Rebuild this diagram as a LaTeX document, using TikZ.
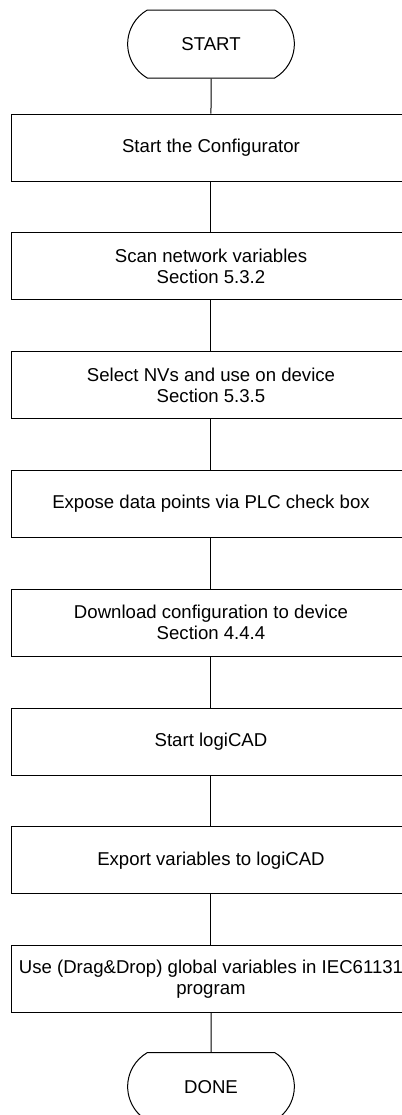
\documentclass[tikz,border=0pt]{standalone}
\usepackage{fontspec}
\setmainfont{Liberation Sans}
\usetikzlibrary{positioning, shapes.misc}

\begin{document}
\begin{tikzpicture}[node distance=25.4pt, line width=0.5pt,
    stepbox/.style={draw, rectangle, minimum width=199pt, minimum height=33.5pt, align=center, font=\fontsize{9.3}{10.6}\selectfont},
    terminal/.style={draw, rounded rectangle, rounded rectangle arc length=120, minimum width=90pt, minimum height=34pt, font=\fontsize{9.3}{10.6}\selectfont}]
    \useasboundingbox (-105.5pt,22pt) rectangle (95.5pt,-535.5pt);
    \clip (-105.5pt,22pt) rectangle (95.5pt,-535.5pt);
    % Steps
    \node[terminal] (start) {START};
    \node[stepbox, below=17.5pt of start] (config) {Start the Configurator};
    \node[stepbox, below=of config] (scan) {Scan network variables\\Section 5.3.2};
    \node[stepbox, below=of scan] (select) {Select NVs and use on device\\Section 5.3.5};
    \node[stepbox, below=of select] (expose) {Expose data points via PLC check box};
    \node[stepbox, below=of expose] (download) {Download configuration to device\\Section 4.4.4};
    \node[stepbox, below=of download] (logicad) {Start logiCAD};
    \node[stepbox, below=of logicad] (export) {Export variables to logiCAD};
    \node[stepbox, below=of export] (use) {Use (Drag\&Drop) global variables in IEC61131\\program};
    \node[terminal, below=19.5pt of use] (done) {DONE};

    % Flow
    \draw (start) -- (config);
    \draw (config) -- (scan);
    \draw (scan) -- (select);
    \draw (select) -- (expose);
    \draw (expose) -- (download);
    \draw (download) -- (logicad);
    \draw (logicad) -- (export);
    \draw (export) -- (use);
    \draw (use) -- (done);
\end{tikzpicture}
\end{document}
